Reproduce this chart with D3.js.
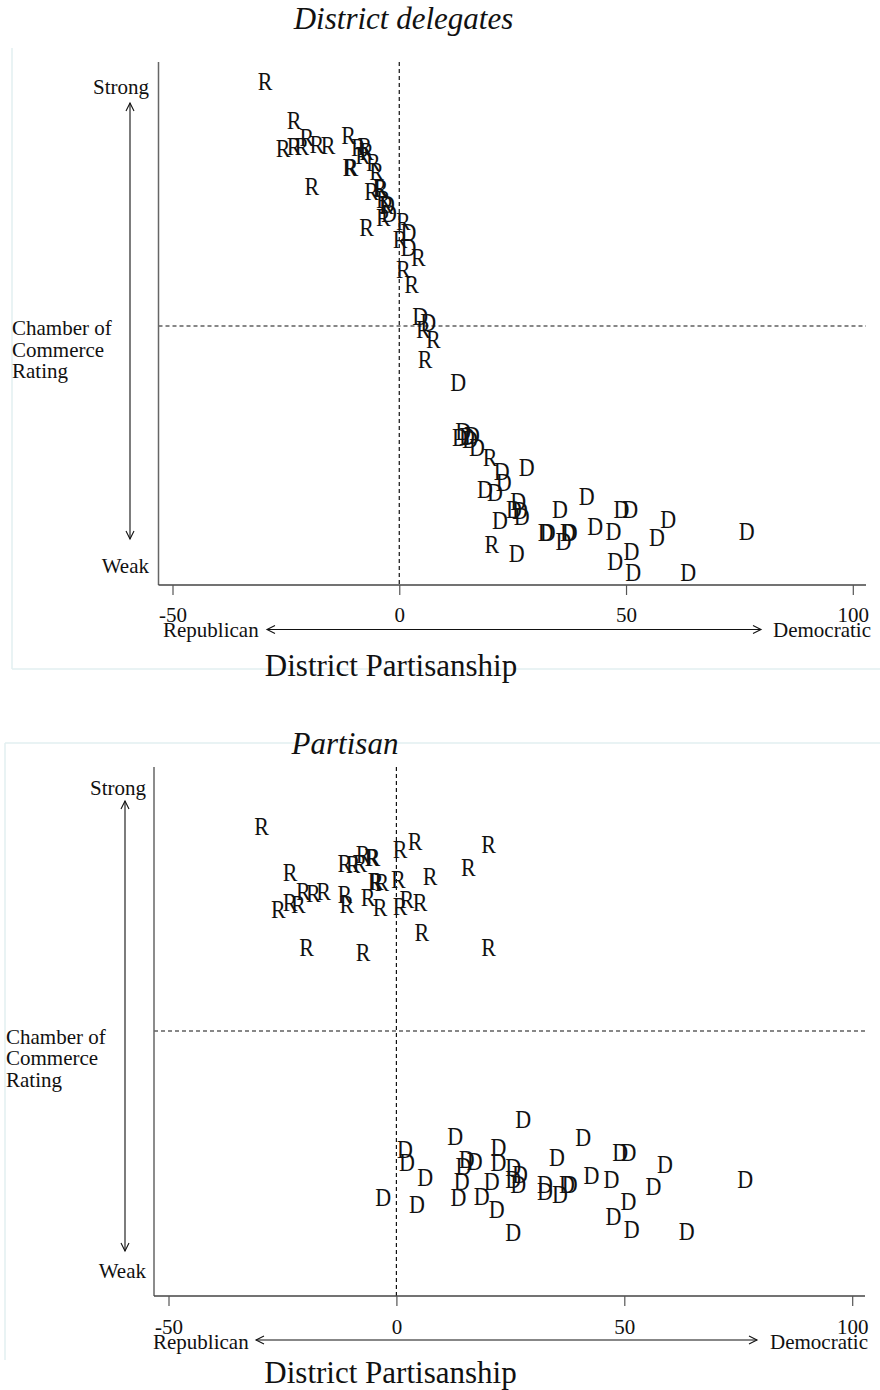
<!DOCTYPE html>
<html>
<head>
<meta charset="utf-8">
<script src="https://cdn.jsdelivr.net/npm/d3@7/dist/d3.min.js"></script>
<style>
  html, body { margin: 0; padding: 0; background: #fff; }
  svg { display: block; }
  text { font-family: "Liberation Serif", "Times New Roman", serif; fill: #111; }
</style>
</head>
<body>
<svg id="chart" width="880" height="1390"></svg>
<script>
// ---------------- DATA ----------------
const xTicks = [-50, 0, 50, 100];
const panelTitles = ["District delegates", "Partisan"];
const xAxisTitle = "District Partisanship";
const yAxisTitleLines = ["Chamber of", "Commerce", "Rating"];
const yEndLabels = ["Strong", "Weak"];
const xEndLabels = ["Republican", "Democratic"];
const partyLabels = { R: "R", D: "D" };

// Panel 1: District delegates  [partisanship, chamber rating (0 weak .. 100 strong)]
const delegatesR = [
  [-29.6, 101.1], [-23.2, 92.9], [-25.6, 87.0], [-23.2, 87.4], [-21.5, 87.4],
  [-20.4, 89.3], [-18.2, 87.9], [-15.7, 87.7], [-11.2, 89.7], [-9.0, 87.2],
  [-7.6, 87.4], [-7.2, 86.5], [-8.1, 85.6], [-5.7, 84.0], [-5.0, 82.3],
  [-10.9, 83.0], [-10.6, 83.0], [-19.3, 79.1], [-6.1, 78.1], [-4.3, 78.8],
  [-4.0, 78.7], [-3.5, 76.4], [-2.8, 75.0], [-3.5, 72.5], [-7.2, 70.4],
  [0.9, 71.8], [0.2, 68.0], [4.2, 64.2], [0.9, 61.7], [2.7, 58.6],
  [5.3, 49.2], [7.5, 47.1], [5.7, 42.9], [20.0, 22.3], [20.4, 4.2]
];
const delegatesD = [
  [-2.7, 75.3], [-2.3, 73.4], [2.0, 69.4], [2.0, 66.3],
  [4.6, 51.9], [6.4, 50.6], [13.0, 38.0],
  [14.1, 27.9], [13.4, 26.5], [14.9, 26.8], [15.6, 26.2], [16.0, 27.0], [17.1, 24.4],
  [22.6, 19.5], [28.1, 20.2], [23.0, 17.1], [18.9, 15.7], [21.1, 15.0],
  [26.2, 13.2], [25.3, 11.5], [26.6, 11.3], [27.0, 10.1], [35.4, 11.5],
  [41.3, 14.3], [49.0, 11.5], [50.9, 11.5], [59.3, 9.4], [22.2, 9.1],
  [32.3, 6.6], [32.7, 6.6], [37.2, 6.6], [37.6, 6.6], [36.2, 4.9],
  [43.2, 8.0], [47.2, 7.0], [56.8, 5.6], [76.6, 7.0], [25.9, 2.4],
  [51.2, 2.8], [47.6, 0.7], [51.6, -1.7], [63.7, -1.7]
];

// Panel 2: Partisan
const partisanR = [
  [-29.6, 92.2], [0.8, 87.4], [4.1, 89.1], [20.2, 88.4], [-7.3, 86.4],
  [-5.4, 85.7], [-5.1, 85.7], [-11.3, 84.6], [-9.5, 84.3], [-8.0, 84.6],
  [15.8, 83.6], [7.4, 81.9], [-23.3, 82.6], [-4.7, 80.8], [-4.4, 80.8],
  [-3.2, 80.5], [0.4, 81.2], [-20.4, 78.8], [-18.2, 78.4], [-16.0, 78.8],
  [-11.3, 78.1], [-10.9, 76.0], [-6.2, 77.4], [-3.6, 75.4], [0.8, 75.7],
  [2.3, 77.1], [5.2, 76.4], [-23.3, 76.4], [-21.5, 76.0], [-25.9, 75.0],
  [5.6, 70.2], [-19.7, 67.1], [-7.3, 66.1], [20.2, 67.1]
];
const partisanD = [
  [27.8, 31.6], [12.9, 28.2], [41.0, 27.8], [1.9, 25.4], [22.4, 25.8],
  [49.1, 24.7], [50.9, 24.7], [35.2, 23.7], [58.9, 22.3], [2.3, 22.7],
  [15.4, 23.3], [17.2, 23.0], [14.7, 22.0], [22.4, 22.7], [25.6, 21.6],
  [27.1, 20.2], [6.3, 19.6], [14.3, 18.9], [20.9, 18.9], [25.6, 19.2],
  [26.7, 18.2], [42.8, 20.0], [47.2, 19.2], [32.6, 18.2], [37.4, 18.2],
  [38.0, 18.2], [56.4, 17.8], [32.6, 16.8], [35.9, 16.1], [-2.9, 15.4],
  [4.5, 14.0], [13.6, 15.4], [18.7, 15.8], [22.0, 13.0], [50.9, 14.7],
  [47.6, 11.6], [51.6, 8.9], [25.6, 8.2], [63.7, 8.5], [76.5, 19.2]
];

// ---------------- LAYOUT ----------------
const svg = d3.select("#chart");

const panels = [
  {
    title: panelTitles[0], R: delegatesR, D: delegatesD,
    titleX: 403.5, titleY: 29,
    xRange: [172.5, 852.8], yRange: [565, 87],
    axisLeft: 158.5, axisRight: 866, axisTop: 62, axisBottom: 585,
    tickLabelY: 622, endLabelY: 637, arrowY: 629.5,
    repX: 163, arrowL: 267, arrowR: 761, demX: 871,
    xTitleX: 391, xTitleY: 676,
    yLabRight: 149, strongY: 94, weakY: 573, yArrowX: 130, yArrowTop: 103, yArrowBot: 539,
    chamberX: 12, chamberY: [335, 357, 378],
    frame: [[12, 48, 12, 669], [12, 669, 880, 669]]
  },
  {
    title: panelTitles[1], R: partisanR, D: partisanD,
    titleX: 345, titleY: 754,
    xRange: [168.5, 852.2], yRange: [1273, 789],
    axisLeft: 154, axisRight: 865, axisTop: 767, axisBottom: 1296,
    tickLabelY: 1334, endLabelY: 1349, arrowY: 1340,
    repX: 153, arrowL: 256, arrowR: 757, demX: 868,
    xTitleX: 390.5, xTitleY: 1383,
    yLabRight: 146, strongY: 795, weakY: 1278, yArrowX: 125, yArrowTop: 801, yArrowBot: 1251,
    chamberX: 6, chamberY: [1043.5, 1065, 1086.5],
    frame: [[5, 743, 880, 743], [5, 743, 5, 1360]]
  }
];

function drawPanel(p) {
  const g = svg.append("g");
  const x = d3.scaleLinear().domain([-50, 100]).range(p.xRange);
  const y = d3.scaleLinear().domain([0, 100]).range(p.yRange);

  // faint frame remnants
  p.frame.forEach(f => g.append("line")
    .attr("x1", f[0]).attr("y1", f[1]).attr("x2", f[2]).attr("y2", f[3])
    .attr("stroke", "#e2eff1").attr("stroke-width", 1.5));

  // title
  g.append("text").attr("x", p.titleX).attr("y", p.titleY)
    .attr("text-anchor", "middle").attr("font-style", "italic")
    .attr("font-size", 31).text(p.title);

  // reference dashed lines
  g.append("line").attr("x1", x(0)).attr("x2", x(0))
    .attr("y1", p.axisTop).attr("y2", p.axisBottom)
    .attr("stroke", "#111").attr("stroke-width", 1.2).attr("stroke-dasharray", "4,3");
  g.append("line").attr("x1", p.axisLeft).attr("x2", p.axisRight)
    .attr("y1", y(50)).attr("y2", y(50))
    .attr("stroke", "#111").attr("stroke-width", 1.2).attr("stroke-dasharray", "4,3");

  // axes lines
  g.append("line").attr("x1", p.axisLeft).attr("x2", p.axisLeft)
    .attr("y1", p.axisTop).attr("y2", p.axisBottom)
    .attr("stroke", "#666").attr("stroke-width", 1.5);
  g.append("line").attr("x1", p.axisLeft).attr("x2", p.axisRight)
    .attr("y1", p.axisBottom).attr("y2", p.axisBottom)
    .attr("stroke", "#444").attr("stroke-width", 1.5);

  // x axis ticks via d3 axis
  const ax = g.append("g").attr("transform", `translate(0,${p.axisBottom})`)
    .call(d3.axisBottom(x).tickValues(xTicks).tickSize(10).tickFormat(d => String(d)));
  ax.select(".domain").remove();
  ax.selectAll(".tick line").attr("stroke", "#555").attr("stroke-width", 1.2);
  ax.selectAll(".tick text")
    .attr("y", p.tickLabelY - p.axisBottom).attr("dy", 0)
    .attr("font-size", 21).attr("font-family", "Liberation Serif, Times New Roman, serif")
    .attr("fill", "#111");

  // x end labels + arrow
  g.append("text").attr("x", p.repX).attr("y", p.endLabelY)
    .attr("font-size", 21).text(xEndLabels[0]);
  g.append("text").attr("x", p.demX).attr("y", p.endLabelY)
    .attr("text-anchor", "end").attr("font-size", 21).text(xEndLabels[1]);
  const arr = g.append("g").attr("stroke", "#111").attr("stroke-width", 1.1).attr("fill", "none");
  arr.append("line").attr("x1", p.arrowL).attr("x2", p.arrowR).attr("y1", p.arrowY).attr("y2", p.arrowY);
  arr.append("path").attr("d", `M${p.arrowL + 8},${p.arrowY - 4} L${p.arrowL},${p.arrowY} L${p.arrowL + 8},${p.arrowY + 4}`);
  arr.append("path").attr("d", `M${p.arrowR - 8},${p.arrowY - 4} L${p.arrowR},${p.arrowY} L${p.arrowR - 8},${p.arrowY + 4}`);

  // x title
  g.append("text").attr("x", p.xTitleX).attr("y", p.xTitleY)
    .attr("text-anchor", "middle").attr("font-size", 31).text(xAxisTitle);

  // y labels + arrow
  g.append("text").attr("x", p.yLabRight).attr("y", p.strongY)
    .attr("text-anchor", "end").attr("font-size", 21).text(yEndLabels[0]);
  g.append("text").attr("x", p.yLabRight).attr("y", p.weakY)
    .attr("text-anchor", "end").attr("font-size", 21).text(yEndLabels[1]);
  const ya = g.append("g").attr("stroke", "#111").attr("stroke-width", 1.1).attr("fill", "none");
  ya.append("line").attr("x1", p.yArrowX).attr("x2", p.yArrowX).attr("y1", p.yArrowTop).attr("y2", p.yArrowBot);
  ya.append("path").attr("d", `M${p.yArrowX - 4},${p.yArrowTop + 8} L${p.yArrowX},${p.yArrowTop} L${p.yArrowX + 4},${p.yArrowTop + 8}`);
  ya.append("path").attr("d", `M${p.yArrowX - 4},${p.yArrowBot - 8} L${p.yArrowX},${p.yArrowBot} L${p.yArrowX + 4},${p.yArrowBot - 8}`);
  yAxisTitleLines.forEach((t, i) => g.append("text")
    .attr("x", p.chamberX).attr("y", p.chamberY[i]).attr("font-size", 21).text(t));

  // markers (letters centred on the data point, slightly tall like the source)
  const pts = p.R.map(d => ({ x: d[0], v: d[1], k: "R" }))
    .concat(p.D.map(d => ({ x: d[0], v: d[1], k: "D" })));
  g.append("g").selectAll("text").data(pts).join("text")
    .attr("transform", d => `translate(${x(d.x)},${y(d.v)}) scale(1,1.1)`)
    .attr("dy", "0.33em").attr("text-anchor", "middle")
    .attr("font-size", 22).attr("fill", "#111")
    .text(d => partyLabels[d.k]);
}

panels.forEach(drawPanel);
</script>
</body>
</html>
